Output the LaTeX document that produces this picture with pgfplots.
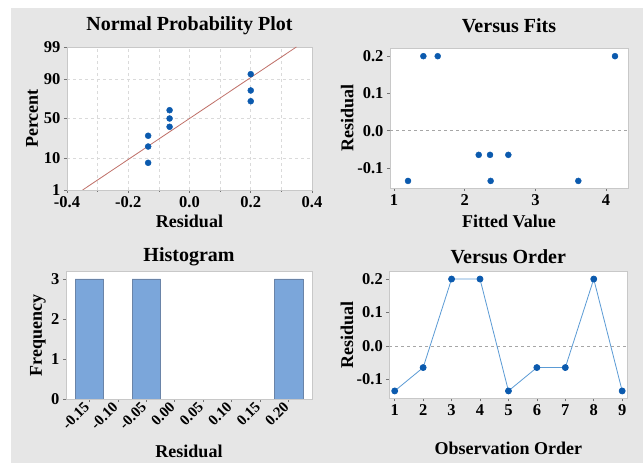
\documentclass[border=0pt]{standalone}
\usepackage{fontspec}
\setmainfont{Liberation Serif}
\usepackage{pgfplots}
\pgfplotsset{compat=1.18}

\definecolor{bg}{HTML}{E6E6E6}
\definecolor{mk}{HTML}{0B5AAE}
\definecolor{frame}{HTML}{C8C8C8}
\definecolor{fitline}{HTML}{C07068}
\definecolor{ordline}{HTML}{5B9BD5}
\definecolor{histfill}{HTML}{7BA6DA}
\definecolor{histedge}{HTML}{6A84A8}
\definecolor{gridc}{HTML}{DADADA}

\newcommand{\tickfont}{\rmfamily\bfseries\fontsize{16.5}{16.5}\selectfont}

\pgfplotsset{
  mystyle/.style={
    scale only axis,
    axis background/.style={fill=white},
    axis line style={frame, line width=0.8pt},
    tick style={black!55, line width=0.6pt},
    tick align=outside,
    major tick length=3pt,
    minor tick length=2pt,
    xtick pos=left, ytick pos=left,
    /pgf/number format/assume math mode=true,
    xticklabel style={font=\tickfont},
    yticklabel style={font=\tickfont},
    every axis title/.style={at={(0.5,1)}, anchor=center, font=\rmfamily\bfseries\fontsize{20}{20}\selectfont},
    every axis x label/.style={at={(0.5,0)}, anchor=center, font=\rmfamily\bfseries\fontsize{18}{18}\selectfont},
    mk/.style={only marks, mark=*, mark size=3pt, mark options={fill=mk, draw=mk}},
  },
}

\begin{document}
\begin{tikzpicture}
\useasboundingbox (0,0) rectangle (643pt,463pt);
\fill[white] (0,0) rectangle (643pt,463pt);
\fill[bg] (11pt,0) rectangle (643pt,455pt);

% Normal probability plot
\begin{axis}[mystyle,
  at={(67pt,273pt)}, anchor=south west,
  width=245pt, height=143pt,
  xmin=-0.4, xmax=0.4, ymin=-2.3263, ymax=2.3263,
  xtick={-0.4,-0.2,0,0.2,0.4},
  minor xtick={-0.3,-0.1,0.1,0.3},
  xticklabels={-0.4,-0.2,0.0,0.2,0.4},
  ytick={-2.3263,-1.2816,0,1.2816,2.3263},
  yticklabels={1,10,50,90,99},
  grid=both,
  major grid style={gridc, dashed, line width=0.6pt},
  minor grid style={gridc, dashed, line width=0.6pt},
  title={Normal Probability Plot},
  title style={yshift=21pt},
  xlabel={Residual},
  xlabel style={yshift=-31pt},
  ylabel={Percent},
  every axis y label/.style={at={(0,0.5)}, xshift=-35pt, rotate=90, anchor=center, font=\rmfamily\bfseries\fontsize{18}{18}\selectfont},
]
\addplot[fitline, line width=0.8pt] coordinates {(-0.349,-2.3263) (0.349,2.3263)};
\addplot[mk] coordinates {
(-0.135,-1.442) (-0.135,-0.912) (-0.135,-0.5615)
(-0.065,-0.2699) (-0.065,0) (-0.065,0.2699)
(0.2,0.5615) (0.2,0.912) (0.2,1.442)};
\end{axis}

% Versus fits
\begin{axis}[mystyle,
  at={(390pt,275pt)}, anchor=south west,
  width=238pt, height=140pt,
  xmin=0.943, xmax=4.31, ymin=-0.154, ymax=0.222,
  xtick={1,2,3,4},
  xticklabels={1,2,3,4},
  ytick={-0.1,0,0.1,0.2},
  yticklabels={-0.1,0.0,0.1,0.2},
  title={Versus Fits},
  title style={yshift=22pt},
  xlabel={Fitted Value},
  xlabel style={yshift=-33.5pt},
  ylabel={Residual},
  every axis y label/.style={at={(0,0.5)}, xshift=-42.7pt, rotate=90, anchor=center, font=\rmfamily\bfseries\fontsize{18}{18}\selectfont},
]
\addplot[black!35, dashed, line width=0.7pt] coordinates {(0.943,0) (4.31,0)};
\addplot[mk] coordinates {
(1.415,0.2) (1.618,0.2) (4.126,0.2)
(1.198,-0.135) (2.367,-0.135) (3.607,-0.135)
(2.198,-0.065) (2.358,-0.065) (2.617,-0.065)};
\end{axis}

% Histogram
\begin{axis}[mystyle,
  at={(66pt,64pt)}, anchor=south west,
  width=246pt, height=127.3pt,
  xmin=-0.191, xmax=0.241, ymin=0, ymax=3.18,
  xtick={-0.15,-0.10,-0.05,0,0.05,0.10,0.15,0.20},
  xticklabels={-0.15,-0.10,-0.05,0.00,0.05,0.10,0.15,0.20},
  xticklabel style={rotate=45, anchor=east, font=\rmfamily\bfseries\fontsize{15}{15}\selectfont},
  ytick={0,1,2,3},
  yticklabels={0,1,2,3},
  title={Histogram},
  title style={yshift=15pt},
  xlabel={Residual},
  xlabel style={yshift=-52.7pt},
  ylabel={Frequency},
  every axis y label/.style={at={(0,0.5)}, xshift=-28pt, rotate=90, anchor=center, font=\rmfamily\bfseries\fontsize{18}{18}\selectfont},
]
\addplot[ybar, bar width=0.05, fill=histfill, draw=histedge, line width=0.7pt] coordinates {(-0.15,3) (-0.05,3) (0.20,3)};
\end{axis}

% Versus order
\begin{axis}[mystyle,
  at={(389.3pt,64.7pt)}, anchor=south west,
  width=238pt, height=126.6pt,
  xmin=0.81, xmax=9.18, ymin=-0.157, ymax=0.222,
  xtick={1,...,9},
  xticklabels={1,2,3,4,5,6,7,8,9},
  ytick={-0.1,0,0.1,0.2},
  yticklabels={-0.1,0.0,0.1,0.2},
  title={Versus Order},
  title style={yshift=15pt},
  xlabel={Observation Order},
  xlabel style={yshift=-49.7pt},
  ylabel={Residual},
  every axis y label/.style={at={(0,0.5)}, xshift=-42.3pt, rotate=90, anchor=center, font=\rmfamily\bfseries\fontsize{18}{18}\selectfont},
]
\addplot[black!35, dashed, line width=0.7pt] coordinates {(0.81,0) (9.18,0)};
\addplot[ordline, line width=0.8pt, mark=*, mark size=3pt, mark options={fill=mk, draw=mk}] coordinates {
(1,-0.135) (2,-0.065) (3,0.2) (4,0.2) (5,-0.135) (6,-0.065) (7,-0.065) (8,0.2) (9,-0.135)};
\end{axis}
\end{tikzpicture}
\end{document}
